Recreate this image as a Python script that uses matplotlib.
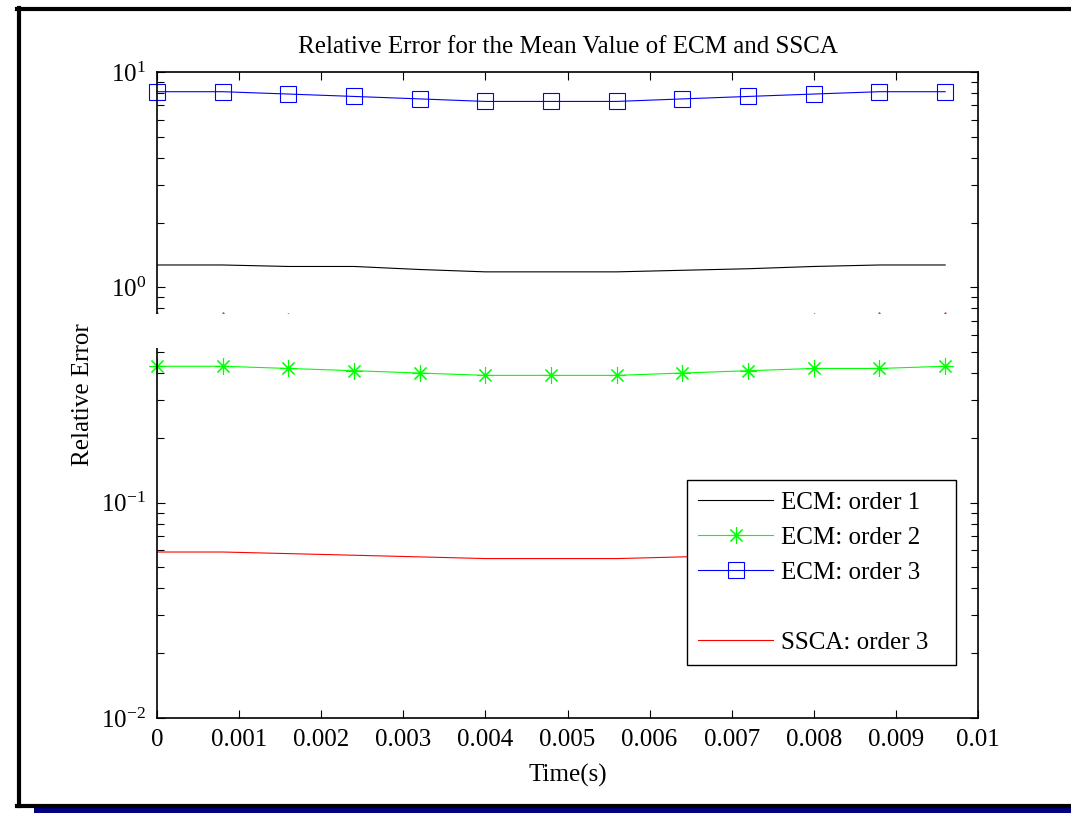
import matplotlib
matplotlib.use('Agg')
import matplotlib.pyplot as plt
from matplotlib.lines import Line2D
from matplotlib.patches import Rectangle
from matplotlib.ticker import LogLocator, FixedLocator

plt.rcParams['font.family'] = ['Liberation Serif', 'DejaVu Serif']
plt.rcParams['mathtext.fontset'] = 'custom'
plt.rcParams['mathtext.rm'] = 'Liberation Serif'

# time samples (s)
t = [0, 0.0008, 0.0016, 0.0024, 0.0032, 0.0040, 0.0048,
     0.0056, 0.0064, 0.0072, 0.0080, 0.0088, 0.0096]

ecm1 = [1.27, 1.27, 1.25, 1.25, 1.21, 1.18, 1.18, 1.18, 1.20, 1.22, 1.25, 1.27, 1.27]
ecm2 = [0.43, 0.43, 0.42, 0.41, 0.40, 0.39, 0.39, 0.39, 0.40, 0.41, 0.42, 0.42, 0.43]
ecm3 = [8.1, 8.1, 7.9, 7.7, 7.5, 7.3, 7.3, 7.3, 7.5, 7.7, 7.9, 8.1, 8.1]
ssca2 = [0.72, 0.72, 0.71, 0.70, 0.69, 0.68, 0.68, 0.68, 0.69, 0.70, 0.71, 0.72, 0.72]
ssca3 = [0.059, 0.059, 0.058, 0.057, 0.056, 0.055, 0.055, 0.055, 0.056, 0.057, 0.058, 0.059, 0.059]

xticks = [0, 0.001, 0.002, 0.003, 0.004, 0.005, 0.006, 0.007, 0.008, 0.009, 0.01]
xticklabels = ['0', '0.001', '0.002', '0.003', '0.004', '0.005',
               '0.006', '0.007', '0.008', '0.009', '0.01']

FS = 18
W, H = 1071, 813
fig = plt.figure(figsize=(W / 100, H / 100), dpi=100)
ax = fig.add_axes([157 / W, 1 - 718 / H, (978 - 157) / W, (718 - 72) / H])

ax.plot(t, ecm1, color='k', lw=0.8, label='ECM: order 1')
ax.plot(t, ecm2, color=(0, 1, 0), lw=0.8, marker=(8, 2, 0), markersize=12,
        markeredgewidth=0.8, clip_on=False, label='ECM: order 2')
ax.plot(t, ecm3, color=(0, 0, 1), lw=0.8, marker='s', markersize=12,
        markerfacecolor='none', markeredgewidth=0.8, clip_on=False, label='ECM: order 3')
ax.plot(t, ssca2, color=(1, 0, 1), lw=0.8, marker='^', markersize=8,
        markerfacecolor='none', markeredgewidth=0.8, clip_on=False)
ax.plot(t, ssca3, color=(1, 0, 0), lw=0.8, label='SSCA: order 3')

ax.set_yscale('log')
ax.set_ylim(1e-2, 1e1)
ax.set_xlim(0, 0.01)
ax.xaxis.set_major_locator(FixedLocator(xticks))
ax.set_xticklabels(xticklabels)
ax.yaxis.set_major_locator(LogLocator(base=10))
ax.yaxis.set_minor_locator(LogLocator(base=10, subs=range(2, 10)))
ax.tick_params(which='both', direction='in', top=True, right=True, labelsize=FS)
ax.tick_params(which='major', length=6, width=0.8, pad=8)
ax.tick_params(which='minor', length=5, width=0.8)
ax.tick_params(axis='y', which='minor', labelleft=False)
for s in ax.spines.values():
    s.set_linewidth(1.2)

ax.set_title('Relative Error for the Mean Value of ECM and SSCA', fontsize=FS, pad=14)
ax.set_xlabel('Time(s)', fontsize=FS, labelpad=9)
ax.set_ylabel('Relative Error', fontsize=FS, labelpad=5)

h = ax.get_lines()
blank = Line2D([], [], color='none')
leg = ax.legend([h[0], h[1], h[2], blank, h[4]],
                ['ECM: order 1', 'ECM: order 2', 'ECM: order 3', ' ', 'SSCA: order 3'],
                loc='upper left', bbox_to_anchor=(0.6456, 0.082, 0.3276, 0.286),
                mode='expand', borderaxespad=0,
                fontsize=FS, fancybox=False, edgecolor='k', framealpha=1,
                handlelength=3.0, handletextpad=0.3, labelspacing=0.5,
                borderpad=0.45)
leg.get_frame().set_linewidth(1.0)

# white band hiding part of the plot
fig.patches.append(Rectangle((138 / W, 1 - 348 / H), (968 - 138) / W, 34 / H,
                             transform=fig.transFigure, facecolor='white',
                             edgecolor='none', zorder=5))

# outer window frame
fig.add_artist(Line2D([17 / W, 1], [1 - 9.5 / H, 1 - 9.5 / H], color='k', lw=3,
                      transform=fig.transFigure))
fig.add_artist(Line2D([18.5 / W, 18.5 / W], [1 - 8 / H, 1 - 806 / H], color='k', lw=3,
                      transform=fig.transFigure))
fig.add_artist(Line2D([17 / W, 1], [1 - 805.5 / H, 1 - 805.5 / H], color='k', lw=3,
                      transform=fig.transFigure))
fig.patches.append(Rectangle((34 / W, 0), 1, 5.5 / H, transform=fig.transFigure,
                             facecolor='#000080', edgecolor='none'))

fig.savefig('out.png', dpi=100)
